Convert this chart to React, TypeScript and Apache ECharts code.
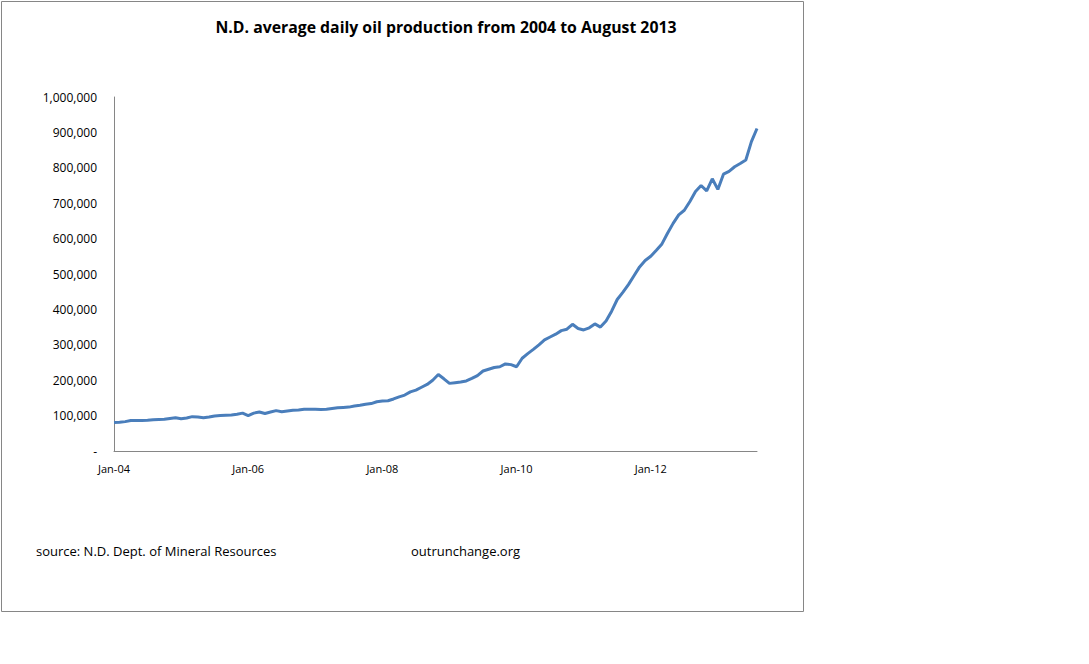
import React, { useEffect, useRef } from "react";
import * as echarts from "echarts";

const MONTHS = ["Jan", "Feb", "Mar", "Apr", "May", "Jun", "Jul", "Aug", "Sep", "Oct", "Nov", "Dec"];
const YEARS = ["04", "05", "06", "07", "08", "09", "10", "11", "12", "13"];

// average daily oil production (barrels/day), Jan 2004 .. Aug 2013
const prod2004 = [80500, 81000, 83000, 86000, 86500, 86500, 87000, 88500, 89000, 89500, 92000, 94000];
const prod2005 = [91000, 93000, 97000, 96000, 94000, 96000, 99000, 100000, 101000, 102000, 104000, 107000];
const prod2006 = [100000, 107000, 110000, 106000, 110000, 114000, 111000, 113000, 115000, 116000, 118000, 118000];
const prod2007 = [118000, 117000, 118000, 120000, 122000, 123000, 124000, 127000, 129000, 132000, 134000, 139000];
const prod2008 = [141000, 142000, 147000, 153000, 158000, 167000, 172000, 180000, 188000, 200000, 216000, 204000];
const prod2009 = [191000, 193000, 195000, 198000, 205000, 213000, 226000, 231000, 236000, 238000, 246000, 244000];
const prod2010 = [238000, 262000, 275000, 287000, 300000, 314000, 322000, 330000, 340000, 344000, 358000, 346000];
const prod2011 = [342000, 348000, 359000, 350000, 367000, 395000, 428000, 448000, 470000, 495000, 520000, 538000];
const prod2012 = [550000, 567000, 585000, 615000, 643000, 667000, 680000, 705000, 733000, 750000, 735000, 769000];
const prod2013 = [739000, 782000, 790000, 803000, 812000, 822000, 874000, 911000];

const production = [
  ...prod2004, ...prod2005, ...prod2006, ...prod2007, ...prod2008,
  ...prod2009, ...prod2010, ...prod2011, ...prod2012, ...prod2013,
];

const categories: string[] = [];
YEARS.forEach((y) => MONTHS.forEach((m) => categories.push(`${m}-${y}`)));
categories.length = production.length;

const TITLE = "N.D. average daily oil production from 2004 to August 2013";
const SOURCE = "source: N.D. Dept. of Mineral Resources";
const SITE = "outrunchange.org";

export default function App() {
  const ref = useRef<HTMLDivElement>(null);
  useEffect(() => {
    document.body.style.margin = "0";
    const chart = echarts.init(ref.current!, null, { renderer: "svg" });
    const font = "'Open Sans', 'Liberation Sans', sans-serif";
    chart.setOption({
      animation: false,
      backgroundColor: "#ffffff",
      textStyle: { fontFamily: font },
      title: {
        text: TITLE,
        left: 441,
        textAlign: "center",
        top: 14,
        textStyle: { fontSize: 15.8, fontWeight: "bold", color: "#000", fontFamily: font },
      },
      graphic: [
        {
          type: "rect",
          shape: { x: 1.5, y: 1.5, width: 802, height: 610 },
          style: { fill: "none", stroke: "#868686", lineWidth: 1 },
          silent: true,
        },
        {
          type: "text",
          left: 36,
          top: 544,
          style: { text: SOURCE, fontSize: 13, fill: "#000", fontFamily: font },
        },
        {
          type: "text",
          left: 411,
          top: 544,
          style: { text: SITE, fontSize: 13, fill: "#000", fontFamily: font },
        },
      ],
      grid: { left: 114, top: 97, width: 643, height: 354, containLabel: false },
      xAxis: {
        type: "category",
        data: categories,
        boundaryGap: false,
        axisLine: { show: true, lineStyle: { color: "#868686", width: 1 } },
        axisTick: { show: false },
        axisLabel: { interval: 23, fontSize: 11, color: "#000", margin: 12, fontFamily: font },
        splitLine: { show: false },
      },
      yAxis: {
        type: "value",
        min: 0,
        max: 1000000,
        interval: 100000,
        axisLine: { show: true, lineStyle: { color: "#868686", width: 1 } },
        axisTick: { show: false },
        splitLine: { show: false },
        axisLabel: {
          fontSize: 12,
          color: "#000",
          margin: 17,
          fontFamily: font,
          formatter: (v: number) => (v === 0 ? "-" : v.toLocaleString("en-US")),
        },
      },
      series: [
        {
          type: "line",
          data: production,
          showSymbol: false,
          symbol: "none",
          lineStyle: { color: "#4a7ebb", width: 3 },
        },
      ],
    });
    return () => chart.dispose();
  }, []);
  return <div ref={ref} style={{ width: 1089, height: 664 }} />;
}
